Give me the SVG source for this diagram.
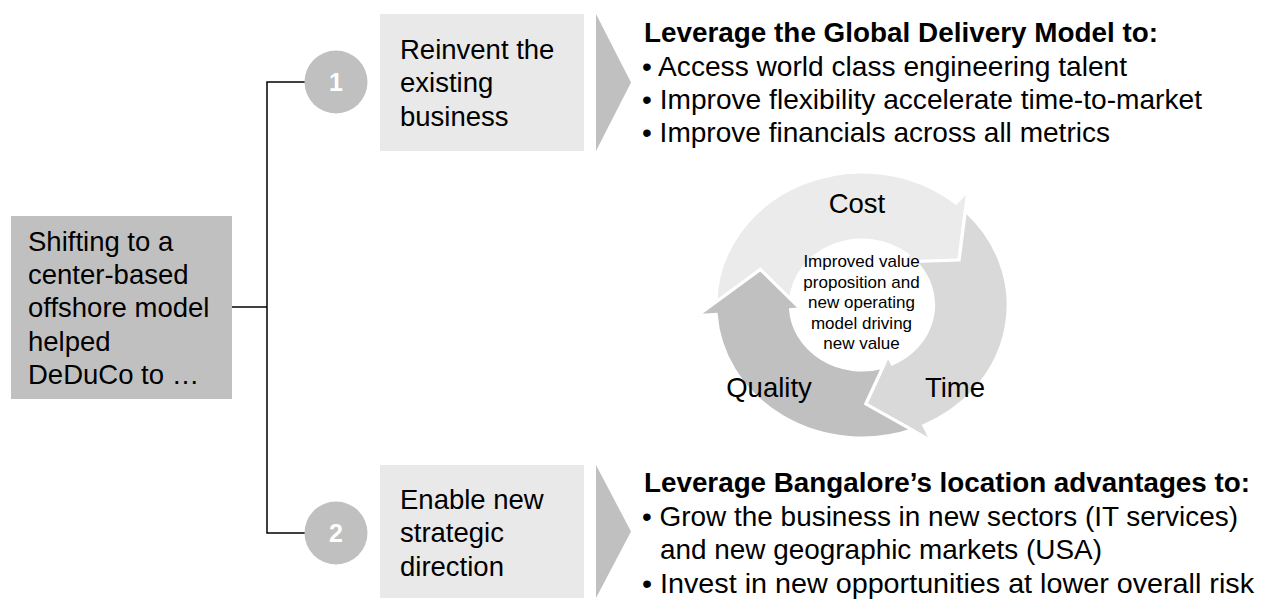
<svg xmlns="http://www.w3.org/2000/svg" width="1268" height="599" viewBox="0 0 1268 599">
<style>
text{font-family:"Liberation Sans",Arial,sans-serif;fill:#000}
.t{font-size:27.5px}
.b{font-size:27.5px;font-weight:bold}
.s{font-size:17px}
.num{font-size:25px;font-weight:bold;fill:#fff}
.lt{fill:#e9e9e9}
.dk{fill:#c0c0c0}
.seg{stroke:#fff;stroke-width:3;stroke-linejoin:miter}
.conn{fill:none;stroke:#000;stroke-width:1.5}
</style>
<rect width="1268" height="599" fill="#fff"/>

<g id="connectors">
<polyline class="conn" points="305,82 267,82 267,533 305,533"/>
<line class="conn" x1="232" y1="307" x2="267" y2="307"/>
</g>

<g id="start-node">
<rect class="dk" x="11" y="216" width="221" height="183"/>
<text class="t" x="28" y="251">Shifting to a</text>
<text class="t" x="28" y="284">center-based</text>
<text class="t" x="28" y="317">offshore model</text>
<text class="t" x="28" y="351">helped</text>
<text class="t" x="28" y="384">DeDuCo to …</text>
</g>

<g id="badge-1">
<circle class="dk" cx="336" cy="82" r="31.5"/>
<text class="num" x="336" y="91" text-anchor="middle">1</text>
</g>

<g id="badge-2">
<circle class="dk" cx="336" cy="533" r="31.5"/>
<text class="num" x="336" y="542" text-anchor="middle">2</text>
</g>

<g id="step-1">
<rect class="lt" x="380" y="14" width="204" height="137"/>
<text class="t" x="400" y="59">Reinvent the</text>
<text class="t" x="400" y="92">existing</text>
<text class="t" x="400" y="125.5">business</text>
<polygon class="dk" points="596,14 631,82.5 596,151"/>
</g>

<g id="step-2">
<rect class="lt" x="380" y="465" width="204" height="133"/>
<text class="t" x="400" y="509">Enable new</text>
<text class="t" x="400" y="542">strategic</text>
<text class="t" x="400" y="576">direction</text>
<polygon class="dk" points="596,465 631,531.5 596,598"/>
</g>

<g id="detail-1">
<text class="b" x="644" y="42" textLength="514" lengthAdjust="spacingAndGlyphs">Leverage the Global Delivery Model to:</text>
<text class="t" x="642" y="75.5" textLength="485" lengthAdjust="spacingAndGlyphs">• Access world class engineering talent</text>
<text class="t" x="642" y="108.5" textLength="560" lengthAdjust="spacingAndGlyphs">• Improve flexibility accelerate time-to-market</text>
<text class="t" x="642" y="142" textLength="468" lengthAdjust="spacingAndGlyphs">• Improve financials across all metrics</text>
</g>

<g id="detail-2">
<text class="b" x="644" y="492" textLength="606" lengthAdjust="spacingAndGlyphs">Leverage Bangalore’s location advantages to:</text>
<text class="t" x="642" y="525.5" textLength="596" lengthAdjust="spacingAndGlyphs">• Grow the business in new sectors (IT services)</text>
<text class="t" x="660" y="559" textLength="442" lengthAdjust="spacingAndGlyphs">and new geographic markets (USA)</text>
<text class="t" x="642" y="592.5" textLength="612" lengthAdjust="spacingAndGlyphs">• Invest in new opportunities at lower overall risk</text>
</g>

<g id="cycle">
<g transform="translate(862 305) scale(1.1 1)">
<path id="seg-cost" class="seg" fill="#ebebeb" d="M -132.98,-2.23 A 133 133 0 0 1 85.49,-101.88 L 96.42,-114.90 L 88.21,-44.95 L 36.00,-42.90 L 41.78,-49.79 A 65 65 0 0 0 -64.83,-4.68 L -92.43,-35.48 Z"/>
<path id="seg-time" class="seg" fill="#d9d9d9" d="M 93.98,-94.10 A 133 133 0 0 1 56.21,120.54 L 63.39,135.95 L 3.46,98.94 L 23.67,50.75 L 27.47,58.91 A 65 65 0 0 0 48.40,-43.39 L 88.21,-44.95 Z"/>
<path id="seg-quality" class="seg" fill="#c0c0c0" d="M 45.58,124.95 A 133 133 0 0 1 -132.68,9.28 L -149.64,10.47 L -92.43,-35.48 L -55.87,3.91 L -64.84,4.54 A 65 65 0 0 0 18.86,62.21 L 3.46,98.94 Z"/>
</g>
<text class="t" x="857" y="213" text-anchor="middle">Cost</text>
<text class="t" x="769" y="397" text-anchor="middle">Quality</text>
<text class="t" x="955" y="397" text-anchor="middle">Time</text>
<text class="s" x="861.5" y="267" text-anchor="middle">Improved value</text>
<text class="s" x="861.5" y="287.5" text-anchor="middle">proposition and</text>
<text class="s" x="861.5" y="308" text-anchor="middle">new operating</text>
<text class="s" x="861.5" y="328.5" text-anchor="middle">model driving</text>
<text class="s" x="861.5" y="349" text-anchor="middle">new value</text>
</g>
</svg>
